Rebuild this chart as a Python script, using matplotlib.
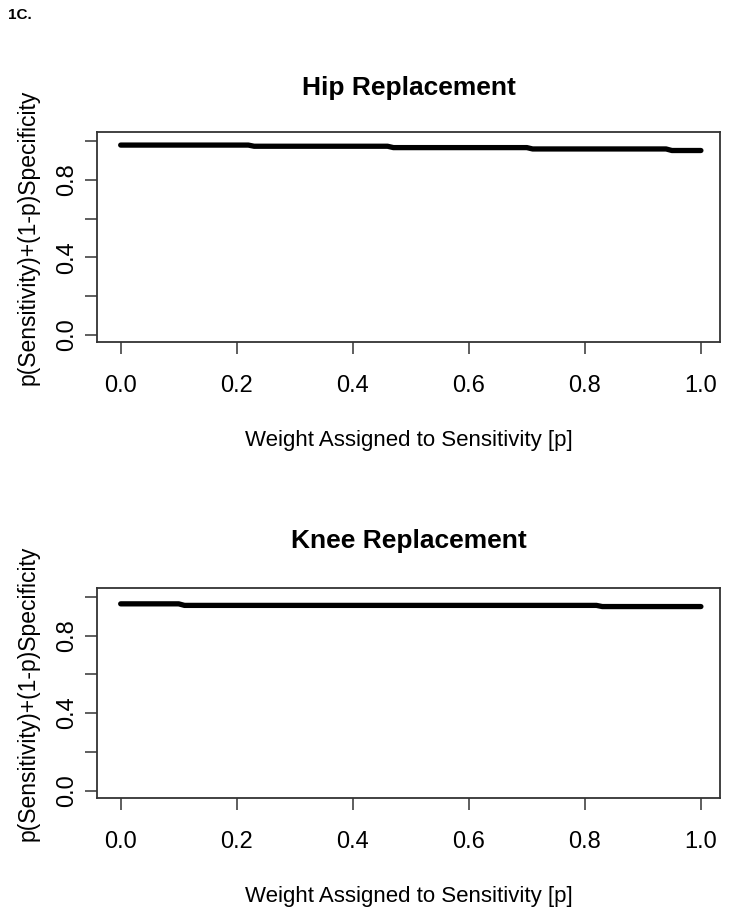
"""
Recreates figure 1C: weighted sensitivity/specificity for hip and knee replacement.
"""

import matplotlib

matplotlib.use("Agg")

import matplotlib.pyplot as plt
from matplotlib import font_manager

# weight assigned to sensitivity (p) and the weighted accuracy
hip_p = [0.0, 0.22, 0.23, 0.46, 0.47, 0.70, 0.71, 0.94, 0.95, 1.0]
hip_score = [0.979, 0.979, 0.973, 0.973, 0.966, 0.966, 0.959, 0.959, 0.951, 0.951]

knee_p = [0.0, 0.10, 0.11, 0.82, 0.83, 1.0]
knee_score = [0.964, 0.964, 0.956, 0.956, 0.950, 0.950]

x_ticks = [0.0, 0.2, 0.4, 0.6, 0.8, 1.0]
y_ticks = [0.0, 0.2, 0.4, 0.6, 0.8, 1.0]
y_tick_labels = ["0.0", "", "0.4", "", "0.8", ""]

titles = ["Hip Replacement", "Knee Replacement"]
x_label = "Weight Assigned to Sensitivity [p]"
y_label = "p(Sensitivity)+(1-p)Specificity"
panel_tag = "1C."


def _pick_font() -> list[str]:
    """Prefers a narrow Helvetica-like face, falls back to Liberation Sans."""

    names = {f.name for f in font_manager.fontManager.ttflist}
    wanted = ["Liberation Sans Narrow", "DejaVu Sans Condensed", "Liberation Sans"]
    found = [n for n in wanted if n in names]
    return found + ["DejaVu Sans"]


def _panel(fig, rect, title, xs, ys, title_pad) -> None:
    """Draws one R-style panel."""

    ax = fig.add_axes(rect)
    ax.plot(xs, ys, color="black", lw=3.8, solid_capstyle="round",
            solid_joinstyle="round")
    ax.set_xlim(-0.041, 1.033)
    ax.set_ylim(-0.04, 1.044)
    ax.set_xticks(x_ticks)
    ax.set_xticklabels([f"{t:.1f}" for t in x_ticks])
    ax.set_yticks(y_ticks)
    ax.set_yticklabels(y_tick_labels, rotation=90, va="center")
    ax.tick_params(direction="out", length=8.5, width=1.1, color="#333333",
                   labelsize=17)
    ax.tick_params(axis="x", pad=15)
    ax.tick_params(axis="y", pad=5)
    for s in ax.spines.values():
        s.set_color("#333333")
        s.set_linewidth(1.3)
    ax.set_title(title, fontsize=19, fontweight="bold", pad=title_pad)
    ax.set_xlabel(x_label, fontsize=16, labelpad=24)
    ax.set_ylabel(y_label, fontsize=16.5, labelpad=12)


def main() -> None:
    plt.rcParams["font.family"] = _pick_font()

    fig = plt.figure(figsize=(7.34, 9.15), dpi=100)
    _panel(fig, [0.132, 0.6257, 0.849, 0.2295], titles[0], hip_p, hip_score, 27)
    _panel(fig, [0.132, 0.1275, 0.849, 0.2295], titles[1], knee_p, knee_score, 29)
    fig.text(0.011, 0.991, panel_tag, fontsize=11, fontweight="bold",
             va="top", ha="left")
    fig.savefig("out.png", dpi=100)
    plt.close(fig)


if __name__ == "__main__":
    main()
